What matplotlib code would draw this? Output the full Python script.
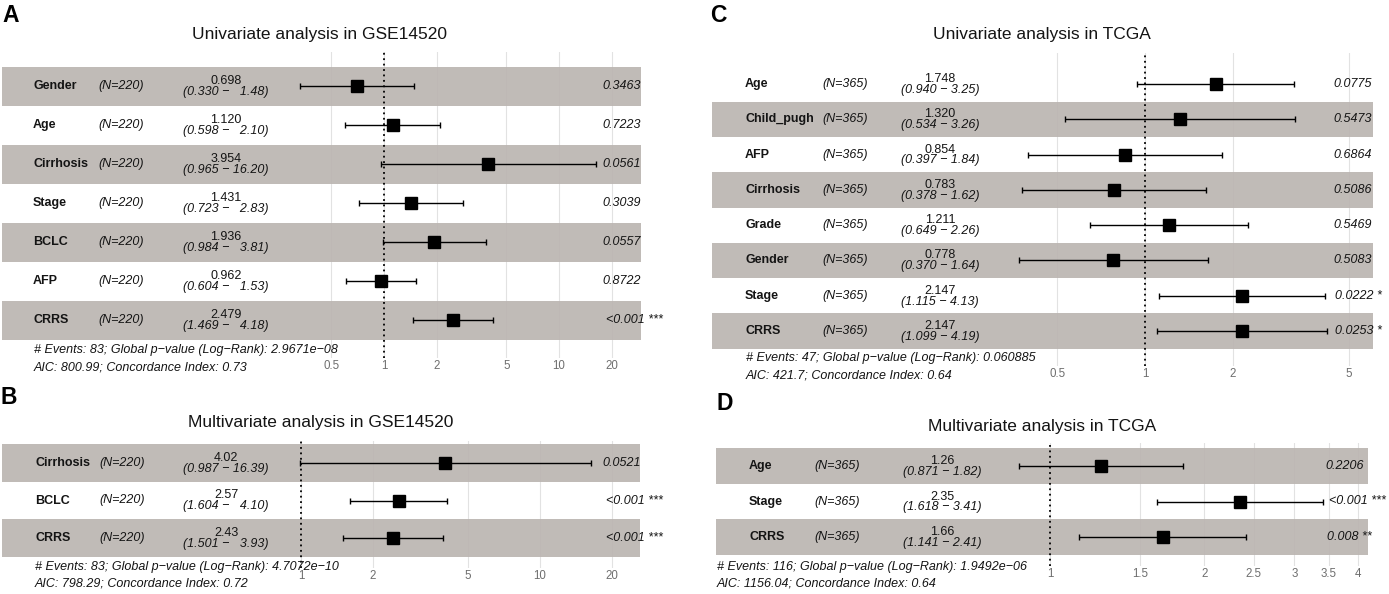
import matplotlib
matplotlib.use("Agg")
import matplotlib.pyplot as plt
import matplotlib.transforms as mtransforms
from matplotlib.ticker import NullLocator, FixedLocator, FixedFormatter

plt.rcParams['font.family'] = ['Liberation Sans', 'DejaVu Sans']

W, H, DPI = 1389, 594, 100
MINUS = "\u2212"

# ---------------- data ----------------
# Panel A: Univariate analysis in GSE14520
a_title = "Univariate analysis in GSE14520"
a_vars = ["Gender", "Age", "Cirrhosis", "Stage", "BCLC", "AFP", "CRRS"]
a_n = [220, 220, 220, 220, 220, 220, 220]
a_hr = [0.698, 1.120, 3.954, 1.431, 1.936, 0.962, 2.479]
a_lo = [0.330, 0.598, 0.965, 0.723, 0.984, 0.604, 1.469]
a_hi = [1.48, 2.10, 16.20, 2.83, 3.81, 1.53, 4.18]
a_p = ["0.3463", "0.7223", "0.0561", "0.3039", "0.0557", "0.8722", "<0.001"]
a_stars = ["", "", "", "", "", "", "***"]
a_ticks = [0.5, 1, 2, 5, 10, 20]
a_foot = ["# Events: 83; Global p-value (Log-Rank): 2.9671e-08",
          "AIC: 800.99; Concordance Index: 0.73"]

# Panel B: Multivariate analysis in GSE14520
b_title = "Multivariate analysis in GSE14520"
b_vars = ["Cirrhosis", "BCLC", "CRRS"]
b_n = [220, 220, 220]
b_hr = [4.02, 2.57, 2.43]
b_lo = [0.987, 1.604, 1.501]
b_hi = [16.39, 4.10, 3.93]
b_p = ["0.0521", "<0.001", "<0.001"]
b_stars = ["", "***", "***"]
b_ticks = [1, 2, 5, 10, 20]
b_foot = ["# Events: 83; Global p-value (Log-Rank): 4.7072e-10",
          "AIC: 798.29; Concordance Index: 0.72"]

# Panel C: Univariate analysis in TCGA
c_title = "Univariate analysis in TCGA"
c_vars = ["Age", "Child_pugh", "AFP", "Cirrhosis", "Grade", "Gender", "Stage", "CRRS"]
c_n = [365, 365, 365, 365, 365, 365, 365, 365]
c_hr = [1.748, 1.320, 0.854, 0.783, 1.211, 0.778, 2.147, 2.147]
c_lo = [0.940, 0.534, 0.397, 0.378, 0.649, 0.370, 1.115, 1.099]
c_hi = [3.25, 3.26, 1.84, 1.62, 2.26, 1.64, 4.13, 4.19]
c_p = ["0.0775", "0.5473", "0.6864", "0.5086", "0.5469", "0.5083", "0.0222", "0.0253"]
c_stars = ["", "", "", "", "", "", "*", "*"]
c_ticks = [0.5, 1, 2, 5]
c_foot = ["# Events: 47; Global p-value (Log-Rank): 0.060885",
          "AIC: 421.7; Concordance Index: 0.64"]

# Panel D: Multivariate analysis in TCGA
d_title = "Multivariate analysis in TCGA"
d_vars = ["Age", "Stage", "CRRS"]
d_n = [365, 365, 365]
d_hr = [1.26, 2.35, 1.66]
d_lo = [0.871, 1.618, 1.141]
d_hi = [1.82, 3.41, 2.41]
d_p = ["0.2206", "<0.001", "0.008"]
d_stars = ["", "***", "**"]
d_ticks = [1, 1.5, 2, 2.5, 3, 3.5, 4]
d_foot = ["# Events: 116; Global p-value (Log-Rank): 1.9492e-06",
          "AIC: 1156.04; Concordance Index: 0.64"]

# ---------------- layout (pixels) ----------------
layouts = {
    "A": dict(left=2, right=641, top=52, bottom=358, x1=384, k=175, first=86, rh=39.0,
              name=33, nx=98, hrx=226, pann=595, foot_x=34, foot=[350, 367],
              title=(320, 34), label=(2, 16), hr_dec=3),
    "B": dict(left=2, right=640, top=441, bottom=568, x1=301, k=239, first=463, rh=37.5,
              name=35, nx=99, hrx=226, pann=595, foot_x=35, foot=[567, 584],
              title=(321, 423), label=(0, 397), hr_dec=2),
    "C": dict(left=712, right=1373, top=53, bottom=366, x1=1145, k=292, first=84, rh=35.3,
              name=745, nx=822, hrx=940, pann=1326, foot_x=746, foot=[358, 375],
              title=(1042, 35), label=(710, 15), hr_dec=3),
    "D": dict(left=716, right=1368, top=443, bottom=566, x1=1050, k=512, first=466, rh=35.5,
              name=749, nx=814, hrx=942, pann=1318, foot_x=717, foot=[567, 583],
              title=(1042, 427), label=(717, 403), hr_dec=2),
}

panels = [
    ("A", a_title, a_vars, a_n, a_hr, a_lo, a_hi, a_p, a_stars, a_ticks, a_foot),
    ("B", b_title, b_vars, b_n, b_hr, b_lo, b_hi, b_p, b_stars, b_ticks, b_foot),
    ("C", c_title, c_vars, c_n, c_hr, c_lo, c_hi, c_p, c_stars, c_ticks, c_foot),
    ("D", d_title, d_vars, d_n, d_hr, d_lo, d_hi, d_p, d_stars, d_ticks, d_foot),
]

BAND = (0.730, 0.705, 0.690)   # drawn semi-transparent, like ggforest's shaded rows
BAND_ALPHA = 0.9
GRID = "#e2e2e2"
TXT = 9.0
INK = "#141414"
fig = plt.figure(figsize=(W / DPI, H / DPI), dpi=DPI)
fig.patch.set_facecolor("white")

p_texts = []

for key, title, vars_, ns, hr, lo, hi, pv, stars, ticks, foot in panels:
    L = layouts[key]
    n = len(vars_)
    ax = fig.add_axes([L["left"] / W, 1 - L["bottom"] / H,
                       (L["right"] - L["left"]) / W, (L["bottom"] - L["top"]) / H])
    ax.set_xscale("log")
    xd = lambda px, L=L: 10 ** ((px - L["x1"]) / L["k"])
    yd = lambda py, L=L, n=n: (n - 1) - (py - L["first"]) / L["rh"]
    ax.set_xlim(xd(L["left"]), xd(L["right"]))
    ax.set_ylim(yd(L["bottom"]), yd(L["top"]))
    ax.patch.set_alpha(0)
    for s in ax.spines.values():
        s.set_visible(False)
    ax.set_yticks([])
    ax.xaxis.set_major_locator(FixedLocator(ticks))
    ax.xaxis.set_major_formatter(FixedFormatter(["%g" % t for t in ticks]))
    ax.xaxis.set_minor_locator(NullLocator())
    ax.tick_params(axis="x", length=0, pad=1.5, labelsize=8.3, labelcolor="#6e6e6e")
    ax.set_axisbelow(True)
    ax.grid(True, axis="x", color=GRID, lw=0.8)

    ys = [n - 1 - i for i in range(n)]
    for i, y in enumerate(ys):
        if y % 2 == 0:
            ax.axhspan(y - 0.5, y + 0.5, color=BAND, alpha=BAND_ALPHA, lw=0, zorder=1)

    ax.axvline(1, color="black", ls=(0, (1, 2.0)), lw=1.3, zorder=3)

    xerr = [[h - l for h, l in zip(hr, lo)], [u - h for h, u in zip(hr, hi)]]
    ax.errorbar(hr, ys, xerr=xerr, fmt="none", ecolor="black", elinewidth=1.0,
                capsize=2.3, capthick=1.0, zorder=3)
    ax.plot(hr, ys, "s", color="black", ms=9, zorder=4)

    dy = 1.0 / L["rh"]
    wide = max(hi) >= 10
    for i, y in enumerate(ys):
        ax.text(xd(L["name"]), y, vars_[i], ha="left", va="center", fontsize=TXT,
                fontweight="bold", color=INK, clip_on=False)
        ax.text(xd(L["nx"]), y, "(N=%d)" % ns[i], ha="left", va="center", fontsize=TXT,
                style="italic", color=INK, clip_on=False)
        hr_s = "%.*f" % (L["hr_dec"], hr[i])
        ax.text(xd(L["hrx"]), y + 5.0 * dy, hr_s, ha="center", va="center",
                fontsize=TXT, color=INK, clip_on=False)
        hi_s = "%.2f" % hi[i]
        if wide:
            hi_s = hi_s.rjust(5).replace(" ", "\u2007")
        ci_s = "(%.3f %s %s)" % (lo[i], MINUS, hi_s)
        ax.text(xd(L["hrx"]), y - 5.8 * dy, ci_s, ha="center", va="center",
                fontsize=TXT, style="italic", color=INK, clip_on=False)
        lab = pv[i] + ((" " + stars[i]) if stars[i] else "")
        t = ax.text(xd(L["pann"]), y, lab, ha="left", va="center", fontsize=TXT,
                    style="italic", color=INK, clip_on=False)
        p_texts.append(t)

    for j, line in enumerate(foot):
        ax.text(xd(L["foot_x"]), yd(L["foot"][j]), line.replace("-", MINUS),
                ha="left", va="center", fontsize=TXT, style="italic",
                color=INK, clip_on=False)

    fig.text(L["title"][0] / W, 1 - L["title"][1] / H, title, ha="center", va="center",
             fontsize=12.5, color=INK)
    fig.text(L["label"][0] / W, 1 - L["label"][1] / H, key, ha="left", va="center",
             fontsize=16.5, fontweight="bold", color="black")

# emulate ggplot hjust = -0.2 for the p-value column
fig.canvas.draw()
renderer = fig.canvas.get_renderer()
for t in p_texts:
    w = t.get_window_extent(renderer).width
    t.set_transform(t.get_transform() + mtransforms.Affine2D().translate(0.2 * w, 0))

fig.savefig("out.png", dpi=DPI, facecolor="white")
